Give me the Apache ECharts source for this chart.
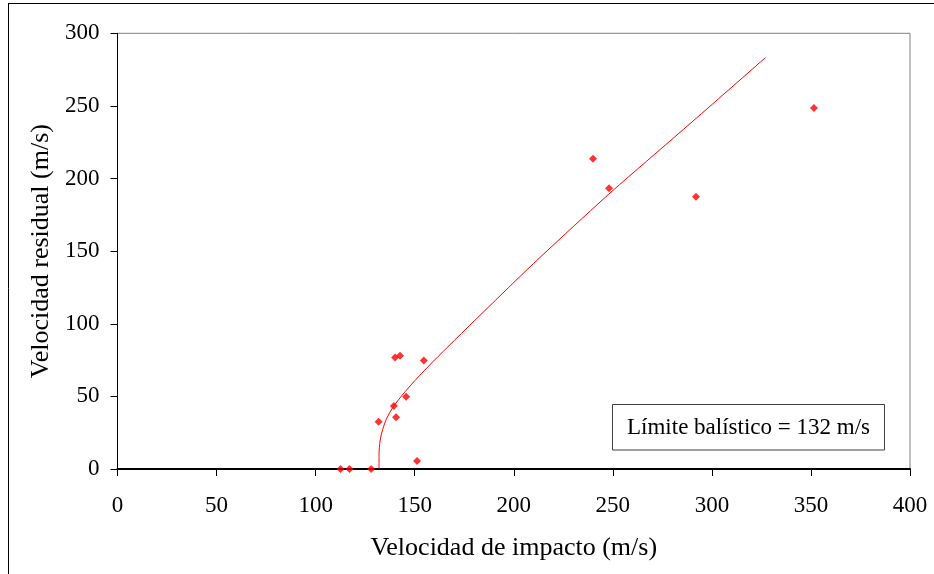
<!DOCTYPE html>
<html>
<head>
<meta charset="utf-8">
<script src="https://cdn.jsdelivr.net/npm/echarts@6/dist/echarts.min.js"></script>
<style>
html,body{margin:0;padding:0;background:#fff;}
#chart{width:934px;height:574px;}
</style>
</head>
<body>
<div id="chart"></div>
<script>
// Measured impact velocity (m/s)
const impactVel = [112.6, 117.1, 128.0, 131.8, 139.5, 140.6, 140.1, 142.6, 145.7, 151.2, 154.6, 240.0, 248.1, 292.0, 351.5];
// Measured residual velocity (m/s)
const residualVel = [0, 0, 0, 32.6, 43.4, 35.7, 76.8, 77.9, 49.7, 5.5, 74.7, 213.6, 193.3, 187.4, 248.5];
// Fitted curve
const fitX = [132, 132, 132.6, 133.8, 135.9, 138.8, 141.8, 145.2, 150.2, 159.3, 170, 185, 210, 242.5, 253.5, 290, 327];
const fitY = [0, 10, 20, 27, 35, 42, 47.6, 53.3, 61, 74, 88.5, 108.5, 141.5, 182.5, 195.9, 239, 283.2];
const xTicks = [0, 50, 100, 150, 200, 250, 300, 350, 400];
const yTicks = [0, 50, 100, 150, 200, 250, 300];
const xTitle = 'Velocidad de impacto (m/s)';
const yTitle = 'Velocidad residual (m/s)';
const noteText = 'Límite balístico = 132 m/s';

const FONT = '"Liberation Serif", "Times New Roman", serif';
const chart = echarts.init(document.getElementById('chart'), null, {renderer: 'canvas'});

const points = impactVel.map((v, i) => [v, residualVel[i]]);
const fit = fitX.map((v, i) => [v, fitY[i]]);

chart.setOption({
  animation: false,
  backgroundColor: '#ffffff',
  grid: {
    left: 117.5, right: 24, top: 33.3, bottom: 105,
    show: true, borderColor: '#808080', borderWidth: 1, backgroundColor: 'transparent'
  },
  xAxis: {
    type: 'value',
    min: xTicks[0], max: xTicks[xTicks.length - 1], interval: 50,
    name: xTitle, nameLocation: 'middle', nameGap: 66,
    nameTextStyle: {fontFamily: FONT, fontSize: 26, color: '#000'},
    axisLine: {show: true, onZero: false, lineStyle: {color: '#000', width: 2}},
    axisTick: {show: true, inside: false, length: 7, lineStyle: {color: '#000', width: 1}},
    axisLabel: {fontFamily: FONT, fontSize: 23, color: '#000', margin: 25},
    splitLine: {show: false}
  },
  yAxis: {
    type: 'value',
    min: yTicks[0], max: yTicks[yTicks.length - 1], interval: 50,
    name: yTitle, nameLocation: 'middle', nameGap: 62, nameRotate: 90,
    nameTextStyle: {fontFamily: FONT, fontSize: 26, color: '#000'},
    axisLine: {show: true, onZero: false, lineStyle: {color: '#000', width: 1}},
    axisTick: {show: true, inside: false, length: 7, lineStyle: {color: '#000', width: 1}},
    axisLabel: {fontFamily: FONT, fontSize: 23, color: '#000', margin: 18},
    splitLine: {show: false}
  },
  series: [
    {
      type: 'line',
      data: fit,
      smooth: 0.3,
      showSymbol: false,
      symbol: 'none',
      lineStyle: {color: '#ff0000', width: 1},
      z: 2
    },
    {
      type: 'scatter',
      data: points,
      symbol: 'diamond',
      symbolSize: 8,
      itemStyle: {color: '#ff0000'},
      z: 3
    }
  ],
  graphic: [
    {type: 'line', shape: {x1: 8, y1: 3.5, x2: 934, y2: 3.5}, style: {stroke: '#000', lineWidth: 1}, silent: true},
    {type: 'line', shape: {x1: 8.5, y1: 3, x2: 8.5, y2: 574}, style: {stroke: '#000', lineWidth: 1}, silent: true},
    {type: 'rect', shape: {x: 612.5, y: 404.5, width: 272, height: 45.5}, style: {fill: '#fff', stroke: '#404040', lineWidth: 1}, z: 10},
    {type: 'text', x: 748.5, y: 427.5, style: {text: noteText, font: '23px ' + FONT, fill: '#000', align: 'center', verticalAlign: 'middle'}, z: 11}
  ]
});
</script>
</body>
</html>
